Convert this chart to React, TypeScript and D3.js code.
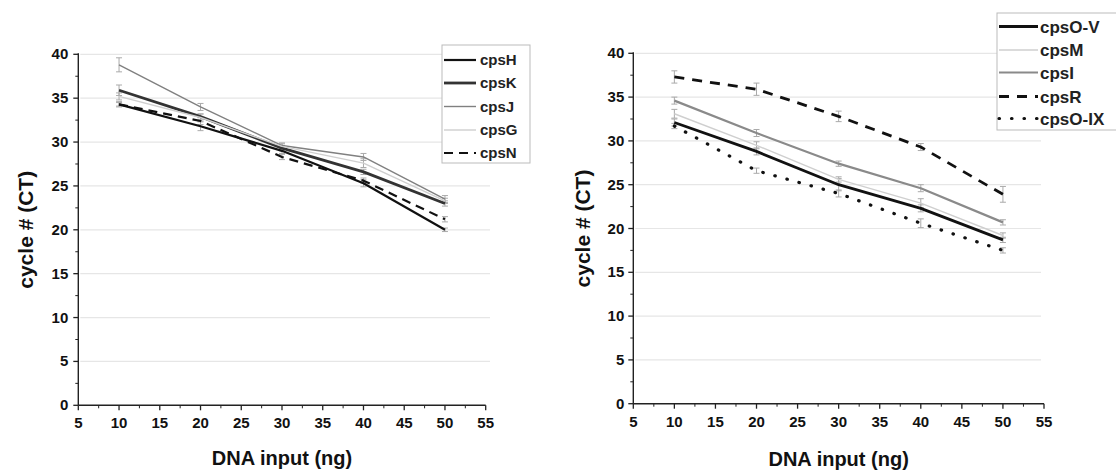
import React from "react";
import * as d3 from "d3";

const xValues = [10, 20, 30, 40, 50];
const xTicks = [5, 10, 15, 20, 25, 30, 35, 40, 45, 50, 55];
const yTicks = [0, 5, 10, 15, 20, 25, 30, 35, 40];

const leftNames = ["cpsH", "cpsK", "cpsJ", "cpsG", "cpsN"];
const cpsH = [34.3, 31.8, 29.0, 25.3, 20.0];
const cpsK = [35.9, 32.9, 29.3, 26.6, 23.0];
const cpsJ = [38.8, 34.0, 29.6, 28.3, 23.5];
const cpsG = [35.2, 32.8, 29.5, 27.6, 23.3];
const cpsN = [34.3, 32.4, 28.3, 25.6, 21.2];
const errH = [0.3, 0.5, 0.3, 0.4, 0.2];
const errK = [0.6, 0.3, 0.3, 0.3, 0.3];
const errJ = [0.8, 0.4, 0.3, 0.4, 0.4];
const errG = [0.4, 0.4, 0.3, 0.5, 0.3];
const errN = [0.2, 0.4, 0.3, 0.3, 0.3];

const rightNames = ["cpsO-V", "cpsM", "cpsI", "cpsR", "cpsO-IX"];
const cpsOV = [32.1, 28.8, 25.0, 22.3, 18.7];
const cpsM = [33.1, 29.5, 25.6, 22.9, 19.2];
const cpsI = [34.6, 30.9, 27.4, 24.6, 20.7];
const cpsR = [37.3, 35.9, 32.8, 29.3, 23.9];
const cpsOIX = [31.7, 26.6, 24.0, 20.6, 17.5];
const errOV = [0.4, 0.4, 0.7, 0.4, 0.3];
const errM = [0.5, 0.4, 0.3, 0.5, 0.3];
const errI = [0.4, 0.4, 0.3, 0.4, 0.3];
const errR = [0.7, 0.7, 0.6, 0.4, 0.9];
const errOIX = [0.3, 0.3, 0.4, 0.5, 0.3];

type Style = { color: string; width: number; dash?: string; cap?: "round" | "butt" };

const leftStyles: Style[] = [
  { color: "#111", width: 2.2 },
  { color: "#333", width: 2.8 },
  { color: "#808080", width: 1.4 },
  { color: "#cfcfcf", width: 1.4 },
  { color: "#111", width: 2.2, dash: "9,6" },
];
const rightStyles: Style[] = [
  { color: "#111", width: 2.8 },
  { color: "#cfcfcf", width: 1.4 },
  { color: "#8a8a8a", width: 2.2 },
  { color: "#111", width: 2.8, dash: "10,8" },
  { color: "#111", width: 3.2, dash: "0.5,12", cap: "round" },
];

type PanelProps = {
  x0: number; x1: number; y0: number; y1: number;
  series: number[][]; errs: number[][]; names: string[]; styles: Style[];
  gridEnd: number;
  legend: { x: number; y: number; w: number; h: number; rowY: number[]; lineX0: number; lineX1: number; textX: number; fontSize: number };
  yTitleX: number; xTitleY: number; yLabelGap: number;
};

const font = "'Liberation Sans', Arial, sans-serif";

function Panel(p: PanelProps) {
  const x = d3.scaleLinear().domain([5, 55]).range([p.x0, p.x1]);
  const y = d3.scaleLinear().domain([0, 40]).range([p.y0, p.y1]);
  const line = d3.line<number>().x((_, i) => x(xValues[i])).y((v) => y(v));
  const minorX = d3.range(7.5, 55, 5);
  const minorY = d3.range(2.5, 40, 5);
  return (
    <g>
      {yTicks.filter((t) => t > 0).map((t) => (
        <line key={"g" + t} x1={p.x0 + 2} x2={p.gridEnd} y1={y(t)} y2={y(t)} stroke="#e6e6e6" strokeWidth={1.2} />
      ))}
      {p.series.map((s, si) => (
        <g key={"e" + si}>
          {s.map((v, i) => {
            const e = p.errs[si][i];
            const cx = x(xValues[i]);
            return (
              <g key={i} stroke="#aaa" strokeWidth={1}>
                <line x1={cx} x2={cx} y1={y(v - e)} y2={y(v + e)} />
                <line x1={cx - 3} x2={cx + 3} y1={y(v - e)} y2={y(v - e)} />
                <line x1={cx - 3} x2={cx + 3} y1={y(v + e)} y2={y(v + e)} />
              </g>
            );
          })}
        </g>
      ))}
      {p.series.map((s, si) => {
        const st = p.styles[si];
        return (
          <path key={"l" + si} d={line(s) || ""} fill="none" stroke={st.color} strokeWidth={st.width}
            strokeDasharray={st.dash} strokeLinecap={st.cap || "butt"} strokeLinejoin="round" />
        );
      })}
      {/* axes */}
      <line x1={p.x0} x2={p.x0} y1={p.y0} y2={p.y1 - 1} stroke="#222" strokeWidth={1.4} />
      <line x1={p.x0} x2={p.x1} y1={p.y0} y2={p.y0} stroke="#222" strokeWidth={1.4} />
      {yTicks.map((t) => (
        <g key={"yt" + t}>
          <line x1={p.x0 - 5} x2={p.x0} y1={y(t)} y2={y(t)} stroke="#222" strokeWidth={1.3} />
          <text x={p.x0 - p.yLabelGap} y={y(t) + 5} textAnchor="end" fontFamily={font} fontWeight="bold" fontSize={15} fill="#111">{t}</text>
        </g>
      ))}
      {minorY.map((t) => (
        <line key={"ym" + t} x1={p.x0 - 3} x2={p.x0} y1={y(t)} y2={y(t)} stroke="#222" strokeWidth={1} />
      ))}
      {xTicks.map((t) => (
        <g key={"xt" + t}>
          <line x1={x(t)} x2={x(t)} y1={p.y0} y2={p.y0 + 5} stroke="#222" strokeWidth={1.3} />
          <text x={x(t)} y={p.y0 + 23} textAnchor="middle" fontFamily={font} fontWeight="bold" fontSize={15} fill="#111">{t}</text>
        </g>
      ))}
      {minorX.map((t) => (
        <line key={"xm" + t} x1={x(t)} x2={x(t)} y1={p.y0} y2={p.y0 + 3} stroke="#222" strokeWidth={1} />
      ))}
      <text x={(p.x0 + p.x1) / 2} y={p.xTitleY} textAnchor="middle" fontFamily={font} fontWeight="bold" fontSize={20} fill="#111">DNA input (ng)</text>
      <text transform={`translate(${p.yTitleX},${(p.y0 + p.y1) / 2}) rotate(-90)`} textAnchor="middle" fontFamily={font} fontWeight="bold" fontSize={21} fill="#111">cycle # (CT)</text>
      {/* legend */}
      <rect x={p.legend.x} y={p.legend.y} width={p.legend.w} height={p.legend.h} fill="#fff" stroke="#bbb" strokeWidth={1} />
      {p.names.map((n, i) => {
        const st = p.styles[i];
        const ly = p.legend.rowY[i];
        return (
          <g key={"lg" + i}>
            <line x1={p.legend.lineX0} x2={p.legend.lineX1} y1={ly} y2={ly} stroke={st.color} strokeWidth={st.width}
              strokeDasharray={st.dash} strokeLinecap={st.cap || "butt"} />
            <text x={p.legend.textX} y={ly + p.legend.fontSize * 0.36} fontFamily={font} fontWeight="bold" fontSize={p.legend.fontSize} fill="#222">{n}</text>
          </g>
        );
      })}
    </g>
  );
}

export default function App() {
  return (
    <svg width={1116} height={474} style={{ position: "absolute", left: 0, top: 0, background: "#fff" }}>
      <rect width={1116} height={474} fill="#fff" />
      <Panel
        x0={78.3} x1={485.7} y0={405.3} y1={54.3}
        series={[cpsH, cpsK, cpsJ, cpsG, cpsN]}
        errs={[errH, errK, errJ, errG, errN]}
        names={leftNames} styles={leftStyles}
        gridEnd={490}
        legend={{ x: 442, y: 45, w: 88, h: 118, rowY: [60, 83, 106.5, 130, 153], lineX0: 444, lineX1: 476, textX: 480, fontSize: 15 }}
        yTitleX={33} xTitleY={465} yLabelGap={10}
      />
      <Panel
        x0={633.3} x1={1044} y0={403.7} y1={53.3}
        series={[cpsOV, cpsM, cpsI, cpsR, cpsOIX]}
        errs={[errOV, errM, errI, errR, errOIX]}
        names={rightNames} styles={rightStyles}
        gridEnd={1041}
        legend={{ x: 997, y: 13, w: 122, h: 117, rowY: [26.5, 50, 72.5, 96.5, 118.5], lineX0: 999, lineX1: 1038, textX: 1040, fontSize: 17 }}
        yTitleX={590} xTitleY={466} yLabelGap={9}
      />
    </svg>
  );
}
